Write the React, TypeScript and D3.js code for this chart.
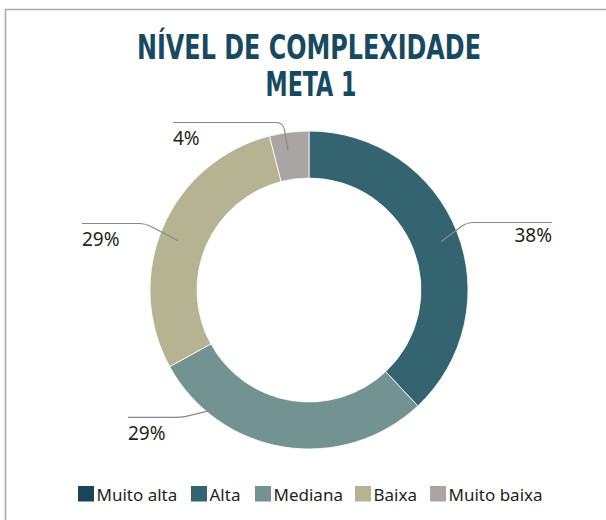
import React from "react";
import * as d3 from "d3";

const categories = ["Muito alta", "Alta", "Mediana", "Baixa", "Muito baixa"];
const values = [0, 38, 29, 29, 4];
const colors = ["#1a4458", "#33646f", "#739393", "#b6b393", "#aaa5a5"];
const titleLines = ["NÍVEL DE COMPLEXIDADE", "META 1"];

// label layout (annotation positions only)
const labelLayout: Record<string, { path: string; x: number; y: number; anchor: string }> = {
  Alta: { path: "M441,241.7 L462,226 Q467,222.5 474,222.5 L552,222.5", x: 552, y: 242, anchor: "end" },
  Mediana: { path: "M230.7,405.7 L186,416.3 Q181,417.3 176,417.3 L128,417.3", x: 128, y: 440, anchor: "start" },
  Baixa: { path: "M178,240.7 L152,227 Q146,223.5 140,223.5 L82,223.5", x: 82, y: 246, anchor: "start" },
  "Muito baixa": { path: "M288,150.7 L284.5,130 Q283,122.5 276,122.5 L173,122.5", x: 173, y: 145, anchor: "start" },
};

const legendX = [78, 191, 255, 355, 430];

export default function App() {
  const W = 606, H = 520;
  const cx = 309, cy = 290, rOuter = 159, rInner = 112;
  const data = categories.map((c, i) => ({ c, v: values[i], color: colors[i] }));
  const pie = d3.pie<any>().value((d) => d.v).sort(null);
  const arcs = pie(data);
  const arc = d3.arc<any>().innerRadius(rInner).outerRadius(rOuter);
  const total = d3.sum(values);

  return (
    <svg width={W} height={H} style={{ position: "absolute", left: 0, top: 0, background: "#fff" }}>
      <rect x={0} y={0} width={W} height={H} fill="#fff" />
      <path d={`M5.5,${H} L5.5,9.5 L${W},9.5`} fill="none" stroke="#ababab" strokeWidth={1.6} />
      <g fill="#184a5f" fontFamily="'DejaVu Sans Condensed', 'Liberation Sans Narrow', sans-serif" fontWeight="bold" fontSize={33} textAnchor="middle">
        <text x={309} y={59} textLength={344} lengthAdjust="spacingAndGlyphs">{titleLines[0]}</text>
        <text x={311} y={96} textLength={91} lengthAdjust="spacingAndGlyphs">{titleLines[1]}</text>
      </g>
      <g transform={`translate(${cx},${cy})`}>
        {arcs.filter((a) => a.data.v > 0).map((a) => (
          <path key={a.data.c} d={arc(a) as string} fill={a.data.color} stroke="#fff" strokeWidth={0.8} />
        ))}
      </g>
      {data.filter((d) => d.v > 0).map((d) => {
        const l = labelLayout[d.c];
        return (
          <g key={d.c}>
            <path d={l.path} fill="none" stroke="#888" strokeWidth={1.2} />
            <text x={l.x} y={l.y} textAnchor={l.anchor} fontFamily="'Noto Sans', sans-serif" fontSize={19} fill="#231f20">
              {`${Math.round((d.v / total) * 100)}%`}
            </text>
          </g>
        );
      })}
      {data.map((d, i) => (
        <g key={d.c} transform={`translate(${legendX[i]},486)`}>
          <rect x={0} y={0} width={16} height={15.5} fill={d.color} />
          <text x={18.5} y={14.5} fontFamily="'Noto Sans', sans-serif" fontSize={17} fill="#231f20">{d.c}</text>
        </g>
      ))}
    </svg>
  );
}
